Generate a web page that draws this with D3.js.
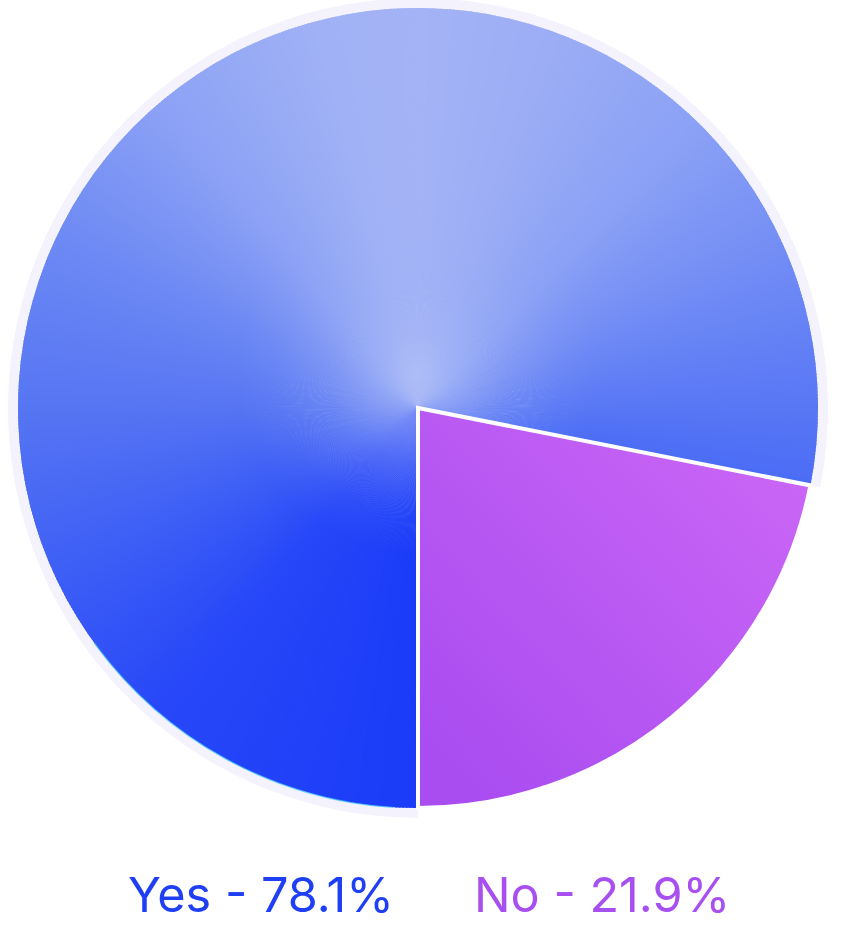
<!DOCTYPE html>
<html>
<head>
<meta charset="utf-8">
<script src="https://cdn.jsdelivr.net/npm/d3@7"></script>
<style>
html,body{margin:0;padding:0;background:#fff;}
svg{display:block;}
</style>
</head>
<body>
<svg id="chart" width="856" height="932"></svg>
<script>
const labels = ["Yes", "No"];
const values = [78.1, 21.9];
const textColors = ["#1f3ff4", "#a84ff0"];

const svg = d3.select("#chart");
const cx = 418, cy = 408, R = 400;
const defs = svg.append("defs");

// angular colour ramp for the Yes slice (degrees clockwise from 12 o'clock)
const yesAngleStops = [-180, -140, -110, -90, -65, -40, -15, 0, 20, 45, 70, 90, 102];
const yesColorStops = ["#1a3cf8","#2747f8","#4263f5","#5675f3","#6d89f4","#8ca2f5","#a0b1f5","#a3b3f5","#9cadf5","#8aa1f5","#6f8af5","#5877f5","#4a6cf5"];
const yesColor = d3.scaleLinear().domain(yesAngleStops).range(yesColorStops)
  .interpolate(d3.interpolateRgb).clamp(true);

// radial glow (local), sitting a little above the centre
const gr = defs.append("radialGradient").attr("id","gGlow")
  .attr("gradientUnits","userSpaceOnUse")
  .attr("cx",0).attr("cy",-35).attr("r",180);
[[0,"#aebef7",0.8],[0.2,"#a4b5f6",0.55],[0.5,"#9eb0f5",0.28],[0.8,"#9eb0f5",0.07],[1,"#9eb0f5",0]]
  .forEach(([o,c,a])=>gr.append("stop").attr("offset",o).attr("stop-color",c).attr("stop-opacity",a));

// No gradient (local)
const gn = defs.append("linearGradient").attr("id","gNo")
  .attr("gradientUnits","userSpaceOnUse")
  .attr("x1",380).attr("y1",60).attr("x2",40).attr("y2",380);
[[0,"#ca66f6"],[1,"#a94cf0"]]
  .forEach(([o,c])=>gn.append("stop").attr("offset",o).attr("stop-color",c));

const pie = d3.pie().sort(null).startAngle(Math.PI).endAngle(3*Math.PI);
const arcs = pie(values);
const arc = d3.arc().innerRadius(0).outerRadius(R);
const halo = d3.arc().innerRadius(0).outerRadius(R+10);

const g = svg.append("g").attr("transform",`translate(${cx},${cy})`);

// halo behind Yes
g.append("path").attr("d", halo(arcs[0])).attr("fill","#f4f2fd");

// Yes slice: conic ramp of thin wedges clipped to the slice
defs.append("clipPath").attr("id","clipYes").append("path").attr("d", arc(arcs[0]));
const yg = g.append("g").attr("clip-path","url(#clipYes)");
const a0 = arcs[0].startAngle, a1 = arcs[0].endAngle;
const step = Math.PI/360;
const wedges = d3.range(a0, a1, step);
const wArc = d3.arc().innerRadius(0).outerRadius(R+2);
yg.selectAll("path.w").data(wedges).join("path").attr("class","w")
  .attr("d", s => wArc({startAngle:s, endAngle:Math.min(s+step*1.6, a1)}))
  .attr("fill", s => {
    let deg = (s + step/2) * 180/Math.PI;
    if (deg > 180) deg -= 360;
    return yesColor(deg);
  });
yg.append("path").attr("d", arc(arcs[0])).attr("fill","url(#gGlow)");

// thin cyan edge at lower-left
const edge = d3.arc().innerRadius(R-0.5).outerRadius(R+0.8)
  .startAngle(Math.PI*1.02).endAngle(Math.PI*1.3);
g.append("path").attr("d", edge()).attr("fill","#40c4f2").attr("opacity",0.7);

// No slice
g.append("path").attr("d", arc(arcs[1])).attr("fill","url(#gNo)")
  .attr("stroke","#ffffff").attr("stroke-width",4).attr("stroke-linejoin","miter");

// Legend text
const lg = svg.append("g");
const texts = labels.map((l,i)=>lg.append("text")
  .attr("y",912)
  .attr("font-family","Inter, 'Noto Sans', sans-serif")
  .attr("font-size",48.6)
  .attr("fill",textColors[i])
  .text(`${l} - ${values[i].toFixed(1)}%`));
const widths = texts.map(t=>t.node().getComputedTextLength());
const gap = 80;
let x = 128;
texts.forEach((t,i)=>{ t.attr("x",x); x += widths[i]+gap; });
</script>
</body>
</html>
